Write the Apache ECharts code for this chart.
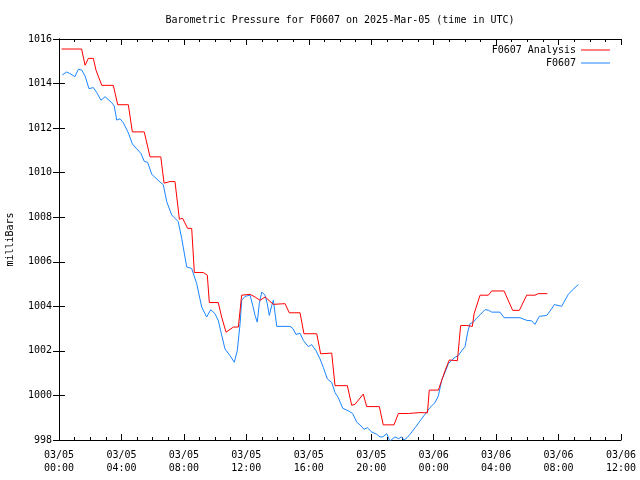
<!DOCTYPE html>
<html><head><meta charset="utf-8">
<script src="https://cdn.jsdelivr.net/npm/echarts@6/dist/echarts.min.js"></script>
<style>html,body{margin:0;padding:0;background:#fff}#c{width:640px;height:480px}</style>
</head><body><div id="c"></div>
<script>
// hours since 2025-03-05 00:00 UTC
const analysisHours = [0.17,1.45,1.67,1.88,2.2,2.37,2.74,3.48,3.76,4.44,4.7,5.46,5.83,6.52,6.73,7.11,7.43,7.71,7.92,8.24,8.5,8.67,9.24,9.5,9.63,10.2,10.42,10.7,11.17,11.49,11.7,12.24,12.56,12.88,13.2,13.73,14.48,14.75,15.44,15.69,16.51,16.76,17.47,17.68,18.47,18.75,18.96,19.49,19.71,20.52,20.77,21.46,21.74,22.38,22.49,23.13,23.24,23.6,23.72,24.3,24.41,24.73,25.0,25.52,25.64,25.73,26.12,26.22,26.48,26.59,26.97,27.5,27.72,28.51,29.06,29.49,29.96,30.49,30.7,31.28];
const analysisValues = [1015.55,1015.55,1014.82,1015.13,1015.13,1014.6,1013.92,1013.92,1013.05,1013.05,1011.83,1011.83,1010.71,1010.71,1009.53,1009.6,1009.6,1007.91,1007.95,1007.5,1007.5,1005.52,1005.52,1005.4,1004.17,1004.17,1003.52,1002.84,1003.07,1003.07,1004.5,1004.54,1004.42,1004.27,1004.42,1004.09,1004.12,1003.71,1003.71,1002.77,1002.77,1001.87,1001.9,1000.44,1000.44,999.56,999.6,1000.06,999.5,999.5,998.68,998.68,999.19,999.19,999.23,999.23,999.28,999.22,1000.24,1000.24,1000.2,1001.11,1001.59,1001.56,1002.47,1003.14,1003.14,1003.1,1003.1,1003.67,1004.5,1004.5,1004.69,1004.69,1003.82,1003.82,1004.5,1004.5,1004.57,1004.57];
const obsHours = [0.21,0.49,0.7,1.02,1.24,1.45,1.67,1.92,2.2,2.42,2.69,2.95,3.38,3.54,3.7,3.91,4.12,4.44,4.7,4.98,5.25,5.46,5.68,5.94,6.47,6.68,6.9,7.22,7.64,7.86,8.18,8.5,8.82,9.14,9.46,9.72,9.99,10.2,10.63,10.95,11.23,11.42,11.6,11.7,11.92,12.24,12.41,12.56,12.7,12.83,12.99,13.2,13.34,13.47,13.63,13.73,13.95,14.8,14.99,15.18,15.44,15.65,15.97,16.19,16.46,16.72,16.93,17.19,17.47,17.68,17.89,18.17,18.53,18.81,19.07,19.28,19.54,19.75,20.03,20.35,20.56,20.74,20.99,21.2,21.52,21.74,21.95,22.1,22.29,22.49,22.81,23.13,23.45,23.77,24.09,24.3,24.52,24.73,24.94,25.16,25.37,25.58,25.8,26.01,26.18,26.33,26.54,26.76,26.97,27.29,27.5,27.72,28.25,28.51,29.53,29.96,30.28,30.49,30.77,31.24,31.52,31.73,32.2,32.41,32.63,32.91,33.27];
const obsValues = [1014.39,1014.52,1014.45,1014.31,1014.64,1014.61,1014.34,1013.77,1013.82,1013.59,1013.25,1013.41,1013.14,1012.99,1012.36,1012.42,1012.24,1011.79,1011.29,1011.07,1010.86,1010.51,1010.46,1009.93,1009.58,1009.46,1008.7,1008.1,1007.8,1007.05,1005.77,1005.7,1005.02,1003.97,1003.52,1003.85,1003.67,1003.37,1002.09,1001.79,1001.49,1002.01,1003.22,1004.27,1004.45,1004.5,1004.04,1003.59,1003.29,1004.12,1004.64,1004.5,1004.12,1003.59,1004.04,1004.27,1003.1,1003.1,1003.0,1002.74,1002.79,1002.47,1002.19,1002.28,1002.01,1001.64,1001.26,1000.74,1000.58,1000.13,999.9,999.43,999.31,999.19,998.8,998.68,998.48,998.55,998.36,998.26,998.14,998.14,998.28,997.95,998.14,998.06,998.14,998.0,998.1,998.26,998.55,998.86,999.16,999.46,999.68,999.98,1000.7,1001.04,1001.42,1001.59,1001.71,1001.79,1002.01,1002.19,1002.84,1003.22,1003.29,1003.47,1003.62,1003.85,1003.83,1003.74,1003.74,1003.49,1003.49,1003.37,1003.35,1003.19,1003.55,1003.59,1003.85,1004.08,1004.0,1004.27,1004.54,1004.75,1004.98];
const seriesNames = ['F0607 Analysis','F0607'];
const titleText = 'Barometric Pressure for F0607 on 2025-Mar-05 (time in UTC)';
const yName = 'milliBars';

const FONT = '"DejaVu Sans Mono", "Liberation Mono", monospace';
const pad = n => (n < 10 ? '0' : '') + n;
function xLabel(h) {
  const day = h < 24 ? '03/05' : '03/06';
  return day + '\n' + pad(Math.round(h) % 24) + ':00';
}
const zip = (a, b) => a.map((v, i) => [v, b[i]]);

const chart = echarts.init(document.getElementById('c'), null, {renderer: 'canvas'});
const axisCommon = {
  axisLine: {show: true, lineStyle: {color: '#000', width: 1}},
  splitLine: {show: false},
};
const legendText = {fontFamily: FONT, fontSize: 10, color: '#000'};
chart.setOption({
  animation: false,
  backgroundColor: '#fff',
  textStyle: {fontFamily: FONT},
  title: {
    text: titleText, left: 340, top: 15, textAlign: 'center', padding: 0,
    textStyle: {fontFamily: FONT, fontSize: 10, fontWeight: 'normal', color: '#000'}
  },
  grid: {left: 59, right: 19, top: 39, bottom: 40, containLabel: false, outerBoundsMode: 'none'},
  legend: [
    {data: [seriesNames[0]], right: 30, top: 45, padding: 0, orient: 'vertical', align: 'right', icon: 'rect',
     itemWidth: 29, itemHeight: 1, selectedMode: false, textStyle: legendText},
    {data: [seriesNames[1]], right: 30, top: 58, padding: 0, orient: 'vertical', align: 'right', icon: 'rect',
     itemWidth: 29, itemHeight: 1, selectedMode: false, textStyle: legendText}
  ],
  xAxis: [
    Object.assign({}, axisCommon, {
      type: 'value', position: 'bottom', min: 0, max: 36, interval: 4,
      axisTick: {show: true, inside: true, length: 6, lineStyle: {color: '#000'}},
      minorTick: {show: true, splitNumber: 4, length: 3, lineStyle: {color: '#000'}},
      minorSplitLine: {show: false},
      axisLabel: {formatter: xLabel, fontFamily: FONT, fontSize: 10, color: '#000', lineHeight: 13, margin: 9}
    }),
    Object.assign({}, axisCommon, {
      type: 'value', position: 'top', min: 0, max: 36, interval: 4,
      axisTick: {show: true, inside: true, length: 6, lineStyle: {color: '#000'}},
      minorTick: {show: true, splitNumber: 4, length: 3, lineStyle: {color: '#000'}},
      axisLabel: {show: false}
    })
  ],
  yAxis: [
    Object.assign({}, axisCommon, {
      type: 'value', position: 'left', min: 998, max: 1016, interval: 2,
      name: yName, nameLocation: 'middle', nameGap: 44, nameRotate: 90,
      nameTextStyle: {fontFamily: FONT, fontSize: 10, color: '#000'},
      axisTick: {show: true, inside: true, length: 6, lineStyle: {color: '#000'}},
      axisLabel: {formatter: v => String(v), fontFamily: FONT, fontSize: 10, color: '#000', margin: 7}
    }),
    Object.assign({}, axisCommon, {
      type: 'value', position: 'right', min: 998, max: 1016, interval: 2,
      axisTick: {show: true, inside: true, length: 6, lineStyle: {color: '#000'}},
      axisLabel: {show: false}
    })
  ],
  series: [
    {name: seriesNames[0], type: 'line', data: zip(analysisHours, analysisValues), symbol: 'none',
     xAxisIndex: 0, yAxisIndex: 0, color: '#ff0000', lineStyle: {color: '#ff0000', width: 1}, clip: true, z: 3},
    {name: seriesNames[1], type: 'line', data: zip(obsHours, obsValues), symbol: 'none',
     xAxisIndex: 0, yAxisIndex: 0, color: '#1a85ff', lineStyle: {color: '#1a85ff', width: 1}, clip: true, z: 2}
  ]
});
</script></body></html>
